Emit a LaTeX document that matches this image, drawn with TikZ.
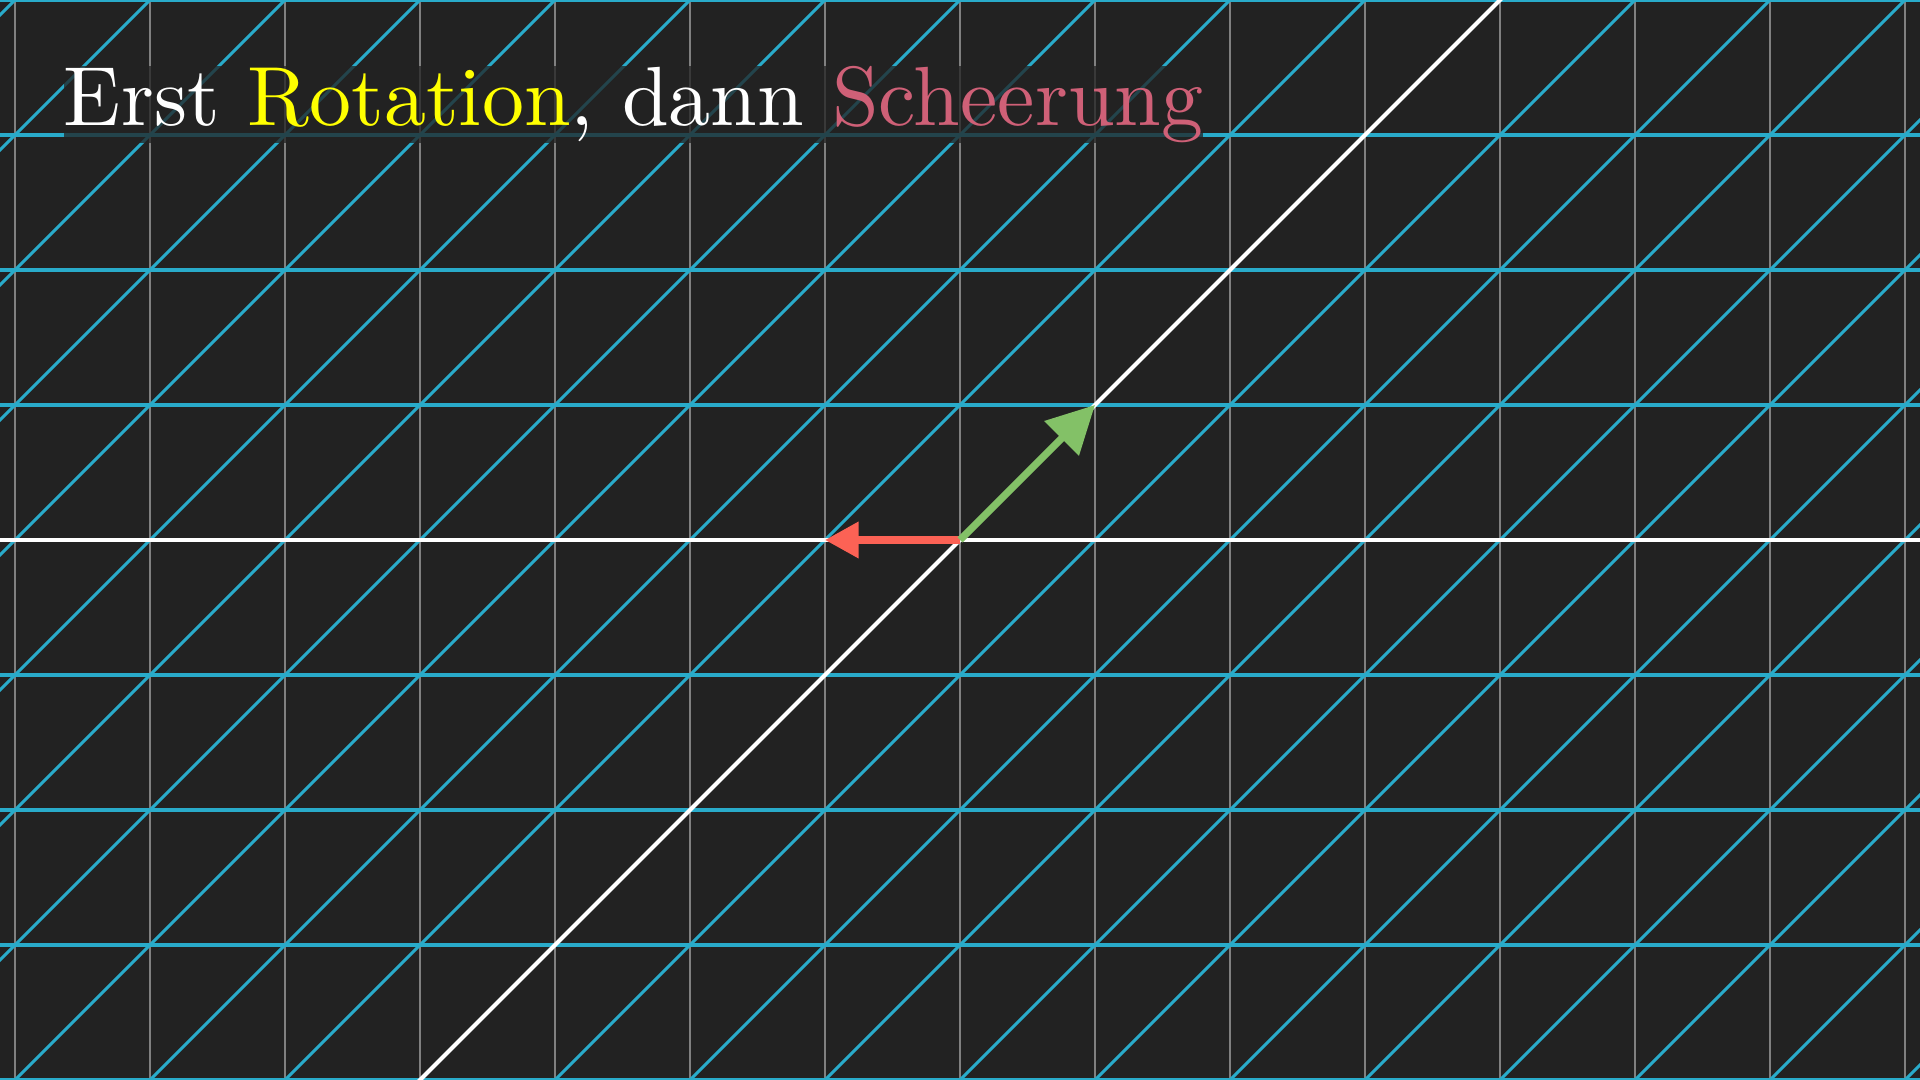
\documentclass[tikz,border=0pt]{standalone}
\usepackage{tikz}
\usetikzlibrary{arrows.meta}

\definecolor{bgdark}{HTML}{222222}
\definecolor{gridblue}{HTML}{29ABCA}
\definecolor{gridgrey}{HTML}{808080}
\definecolor{vecred}{HTML}{FC6255}
\definecolor{vecgreen}{HTML}{83C167}
\definecolor{rotyellow}{HTML}{FFFF00}
\definecolor{shearpink}{HTML}{CF6077}

\tikzset{
  oldgrid/.style={gridgrey,line width=0.5pt},
  newgrid/.style={gridblue,line width=0.65pt},
  axisline/.style={white,line width=0.85pt},
  vec/.style={line width=1.5pt}
}

\begin{document}
\begin{tikzpicture}[x=1cm,y=1cm]
  \fill[bgdark] (-7.1111,-4) rectangle (7.1111,4);
  \useasboundingbox (-7.1111,-4) rectangle (7.1111,4);
  \clip (-7.1111,-4) rectangle (7.1111,4);
  % faint grid before the transformation
  \foreach \k in {-7,...,7}
    \draw[oldgrid] (\k,-4) -- (\k,4);
  % sheared grid: horizontals stay, verticals become diagonals
  \foreach \k in {-4,...,4}
    \draw[newgrid] (-7.2,\k) -- (7.2,\k);
  \foreach \k in {-12,...,12}
    \draw[newgrid] ({-5-\k},-5) -- ({5-\k},5);
  % transformed axes
  \draw[axisline] (-7.2,0) -- (7.2,0);
  \draw[axisline] (-5,-5) -- (5,5);
  % basis vectors
  \coordinate (O) at (0,0);
  \coordinate (ihat) at (-1,0);
  \coordinate (jhat) at (1,1);
  \draw[vec,vecred,-{Triangle[length=0.25cm,width=0.26cm]}] (O) -- (ihat);
  \draw[vec,vecgreen,-{Triangle[length=0.35cm,width=0.35cm]}] (O) -- (jhat);
  % title with dark backing
  \node[anchor=base west,inner sep=0pt,text=white,fill=bgdark,fill opacity=0.75,
        text opacity=1,font=\fontsize{10}{12}\selectfont,scale=1.77,transform shape]
    (title) at (-6.65,3.07)
    {Erst \textcolor{rotyellow}{Rotation}, dann \textcolor{shearpink}{Scheerung}};
\end{tikzpicture}
\end{document}
